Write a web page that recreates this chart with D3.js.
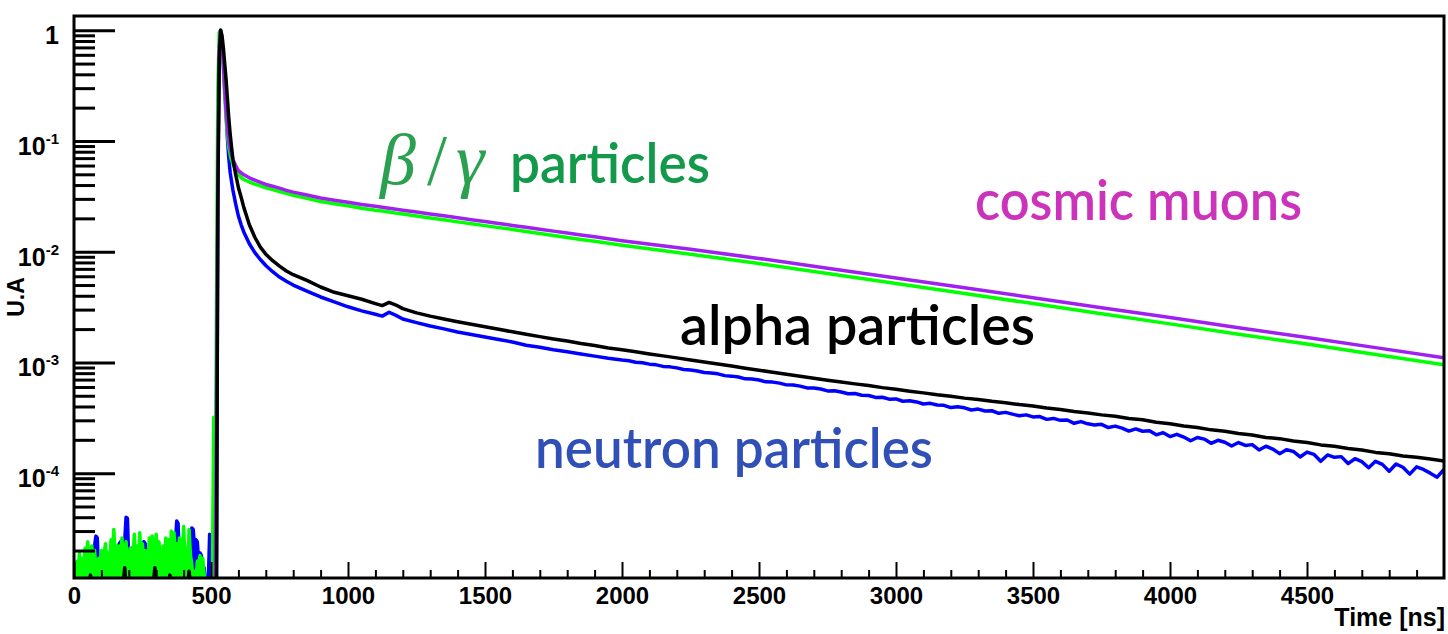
<!DOCTYPE html>
<html>
<head>
<meta charset="utf-8">
<script src="https://cdn.jsdelivr.net/npm/d3@7"></script>
<style>
  html, body { margin: 0; padding: 0; background: #fff; }
  svg { display: block; }
</style>
</head>
<body>
<svg id="chart" width="1448" height="634"></svg>
<script>
// ---------------- data ----------------
// pre-trigger baseline (bins every 5 ns from 5 to 495 ns), in units of 1e-5
const NOISE_UNIT = 1e-5;
const gammaNoise = [0,1.6,1.3,1.9,1.2,1.7,0,2.1,1.5,2.4,1.4,1.8,2.2,1.3,2.0,1.4,0,1.7,1.3,2.0,
  1.6,1.9,2.3,1.2,1.9,1.5,2.5,1.4,3.1,2.0,2.2,1.3,2.2,1.6,2.6,1.4,1.9,2.4,1.2,1.8,
  2.1,0,1.5,2.8,1.7,2.2,1.3,2.9,1.6,2.3,1.4,2.0,0,1.6,2.6,1.8,2.7,1.5,2.1,2.8,
  1.4,2.4,1.7,0,2.2,1.5,2.6,1.8,2.5,1.3,3.0,2.0,2.9,1.6,2.3,1.4,2.6,1.9,1.5,3.3,
  1.7,2.1,1.3,3.1,1.8,1.5,0,1.3,1.1,1.6,1.5,1.8,1.4,1.7,1.2,0,0,0,0];
const neutronNoise = [0,1.3,0,1.5,1.1,1.4,1.2,1.6,0,1.7,1.2,2.0,1.4,1.8,2.2,2.7,2.6,1.2,1.6,1.3,
  1.9,1.5,2.0,1.3,0,1.7,2.1,1.4,1.8,2.2,1.3,1.6,2.3,2.4,2.4,2.3,2.4,4.0,3.9,1.6,
  1.5,2.1,1.3,1.9,1.4,2.0,1.2,1.8,1.5,2.0,2.4,2.3,1.3,1.7,1.4,1.9,1.2,2.0,1.5,1.8,
  1.3,2.1,1.4,1.7,0,1.9,1.5,2.2,1.6,1.9,1.4,2.0,1.7,2.3,3.7,3.5,1.6,2.0,1.4,1.8,
  1.5,1.9,1.3,1.7,2.0,3.2,3.1,2.2,2.5,2.4,1.6,1.9,1.8,0,1.4,0,0,0,2.8];
const alphaNoise = [0,0,0,0,0,0,0,0,0,0,0,1.2,0,0,0,0,0,0,0,0,
  0,0,0,0,0,0,0,0,0,0,0,0,0,0,0,0,1.4,0,0,0,
  0,0,0,0,0,0,0,0,0,0,0,0,0,0,0,0,0,0,1.4,0,
  0,0,0,0,0,0,0,0,0,1.2,0,0,0,0,0,0,0,0,0,0,
  0,0,0,1.3,0,0,0,0,0,0,0,0,0,0,0,0,0,0,0];

// trigger and fast decay, 500 - 2000 ns
const tDecay = [500,505,510,515,520,525,530,535,540,545,550,555,560,565,570,575,580,590,600,610,
  620,640,660,680,700,725,750,775,800,850,900,950,1000,1050,1100,1125,1150,1175,1200,1250,
  1300,1350,1400,1450,1500,1550,1600,1650,1700,1750,1800,1850,1900,1950,2000];
const muonDecay = [0,0,0,0,0.0003,0.05,0.7,1.0,0.75,0.5,0.3,0.19,0.13,0.10,0.085,0.075,0.068,0.060,0.054,0.0515,
  0.0495,0.0465,0.0443,0.0423,0.0405,0.0390,0.0375,0.0358,0.0345,0.0325,0.0305,0.0292,0.0280,0.0267,0.0257,0.0252,0.0247,0.0242,0.0237,0.0228,
  0.0219,0.0211,0.02025,0.01946,0.0187,0.01798,0.01728,0.01661,0.01596,0.01534,0.01475,0.01417,0.01362,0.01309,0.01258];
const gammaDecay = [0,0,0.00032,0.00002,0.003,0.3,0.95,1.0,0.7,0.45,0.26,0.16,0.11,0.088,0.075,0.067,0.062,0.055,0.050,0.0468,
  0.0449,0.0426,0.0408,0.0393,0.0378,0.0364,0.0350,0.0336,0.0323,0.0303,0.0284,0.0271,0.0260,0.0247,0.0237,0.0233,0.0228,0.0223,0.0219,0.0210,
  0.0202,0.0194,0.0186,0.0179,0.0172,0.0165,0.0159,0.0152,0.0146,0.0140,0.01345,0.0129,0.0124,0.0119,0.01145];
const alphaDecay = [0,0,0,0,0,0.03,0.55,1.0,0.9,0.7,0.5,0.36,0.24,0.16,0.115,0.088,0.068,0.05,0.038,0.031,
  0.025,0.0175,0.0135,0.011,0.0095,0.0083,0.0074,0.0067,0.0062,0.0055,0.0048,0.0043,0.0040,0.00372,0.00340,0.00326,0.00348,0.00330,0.00306,0.00280,
  0.00262,0.00247,0.00233,0.00221,0.00210,0.00199,0.00189,0.00180,0.00171,0.00163,0.00156,0.00148,0.00142,0.00135,0.00130];
const neutronDecay = [0,0,0,0,0,0.04,0.6,1.0,0.8,0.55,0.33,0.19,0.105,0.07,0.052,0.043,0.036,0.027,0.021,0.0175,
  0.0150,0.0118,0.0098,0.0085,0.0075,0.0066,0.0059,0.0054,0.0050,0.0044,0.0039,0.00352,0.00318,0.00292,0.00272,0.00262,0.00284,0.00266,0.00247,0.00229,
  0.00213,0.00201,0.00188,0.00179,0.00170,0.00161,0.00153,0.00143,0.00137,0.00130,0.00125,0.00119,0.00114,0.00109,0.00105];

// slow tail of the smooth components, 2000 - 5000 ns every 250 ns
const tSlow = [2000,2250,2500,2750,3000,3250,3500,3750,4000,4250,4500,4750,5000];
const muonSlow = [0.01258,0.0105,0.0087,0.0071,0.0058,0.00472,0.00384,0.00312,0.00254,0.00206,0.00168,0.00136,0.00110];
const gammaSlow = [0.01145,0.0095,0.00783,0.00635,0.00516,0.00419,0.0034,0.002746,0.00223,0.0018,0.001465,0.00118,0.00095];

// long tails, in units of 1e-3: alpha every 50 ns, neutron every 25 ns, from 2000 ns
const TAIL_UNIT = 1e-3;
const alphaTail = [1.300,1.247,1.192,1.146,1.099,1.052,1.010,0.966,0.927,0.887,
  0.851,0.815,0.783,0.750,0.721,0.691,0.666,0.640,0.618,0.592,
  0.572,0.550,0.531,0.511,0.495,0.476,0.463,0.446,0.433,0.416,
  0.404,0.387,0.376,0.360,0.350,0.336,0.326,0.311,0.303,0.288,
  0.279,0.267,0.258,0.246,0.239,0.228,0.221,0.210,0.205,0.195,
  0.189,0.180,0.175,0.167,0.162,0.154,0.150,0.143,0.139,0.134,0.129];
const neutronTail = [1.053,1.036,1.004,0.992,0.965,0.951,0.921,0.912,0.893,0.862,
  0.856,0.838,0.810,0.803,0.789,0.760,0.752,0.738,0.711,0.707,
  0.693,0.668,0.664,0.650,0.627,0.624,0.611,0.589,0.587,0.575,
  0.553,0.555,0.541,0.522,0.524,0.505,0.503,0.483,0.485,0.466,
  0.468,0.446,0.451,0.440,0.421,0.427,0.412,0.410,0.391,0.397,
  0.389,0.372,0.379,0.364,0.366,0.347,0.354,0.341,0.330,0.336,
  0.322,0.324,0.306,0.312,0.300,0.302,0.282,0.292,0.279,0.272,
  0.276,0.258,0.266,0.255,0.240,0.251,0.239,0.242,0.222,0.232,
  0.214,0.224,0.212,0.196,0.210,0.203,0.186,0.198,0.190,0.176,
  0.189,0.178,0.181,0.162,0.175,0.165,0.150,0.163,0.157,0.140,
  0.155,0.148,0.128,0.146,0.139,0.141,0.122,0.135,0.127,0.112,
  0.128,0.120,0.104,0.121,0.113,0.098,0.114,0.108,0.100,0.092,0.108];

// axis ticks and labels
const xMajor = [0,500,1000,1500,2000,2500,3000,3500,4000,4500];
const yDecades = [1, 1e-1, 1e-2, 1e-3, 1e-4];
const yDecadeExp = ["", "-1", "-2", "-3", "-4"];

// ---------------- layout ----------------
const svg = d3.select("#chart");
const L = 74, R = 1444, T = 16, B = 578;
const x = d3.scaleLinear().domain([0, 5000]).range([L, R]);
const y = d3.scaleLog().domain([1.13e-5, 1.345]).range([B, T]);
const yPos = v => v > y.domain()[0] ? y(v) : B + 6;

svg.append("defs").append("clipPath").attr("id", "plotclip")
  .append("rect").attr("x", L).attr("y", T).attr("width", R - L).attr("height", B - T);

// ---------------- series ----------------
const noiseT = d3.range(5, 500, 5);
const zip = (ts, vs, unit = 1) => ts.map((t, i) => [t, vs[i] * unit]).filter(d => !isNaN(d[1]));

const series = [
  { color: "#0000ff", noise: zip(noiseT, neutronNoise, NOISE_UNIT),
    pts: [...zip(tDecay, neutronDecay), ...zip(d3.range(2025, 5001, 25), neutronTail.slice(1), TAIL_UNIT)] },
  { color: "#00ff00", noise: zip(noiseT, gammaNoise, NOISE_UNIT),
    pts: [...zip(tDecay, gammaDecay), ...zip(tSlow.slice(1), gammaSlow.slice(1))] },
  { color: "#a020f0", noise: [],
    pts: [...zip(tDecay, muonDecay), ...zip(tSlow.slice(1), muonSlow.slice(1))] },
  { color: "#000000", noise: zip(noiseT, alphaNoise, NOISE_UNIT),
    pts: [...zip(tDecay, alphaDecay), ...zip(d3.range(2050, 5001, 50), alphaTail.slice(1), TAIL_UNIT)] }
];

const line = d3.line().x(d => x(d[0])).y(d => yPos(d[1]));
const area = d3.area().x(d => x(d[0])).y0(B + 6).y1(d => yPos(d[1]));
const plot = svg.append("g").attr("clip-path", "url(#plotclip)");
const sg = plot.selectAll("g.series").data(series).join("g").attr("class", "series");
// baseline counts: filled from the bottom of the frame
sg.append("path")
  .attr("d", d => d.noise.length ? area(d.noise) : null)
  .attr("fill", d => d.color)
  .attr("stroke", d => d.color)
  .attr("stroke-width", 1);
// full waveform
sg.append("path")
  .attr("d", d => line([...d.noise, ...d.pts]))
  .attr("fill", "none")
  .attr("stroke", d => d.color)
  .attr("stroke-width", 3.5)
  .attr("stroke-linejoin", "round");

// ---------------- axes ----------------
const axisFont = "'Liberation Sans', Arial, Helvetica, sans-serif";

// x axis: major ticks with labels, minor ticks every 100 ns
const xMinor = d3.range(100, 5000, 100).filter(v => v % 500 !== 0);
const gxMinor = svg.append("g").attr("transform", `translate(0,${B})`)
  .call(d3.axisBottom(x).tickValues(xMinor).tickSize(-8).tickFormat(""));
const gx = svg.append("g").attr("transform", `translate(0,${B})`)
  .call(d3.axisBottom(x).tickValues(xMajor).tickSize(-16).tickPadding(9).tickFormat(d3.format("d")));
[gx, gxMinor].forEach(g => {
  g.select(".domain").remove();
  g.selectAll(".tick line").attr("stroke", "#000").attr("stroke-width", 2);
});
gx.selectAll(".tick text")
  .attr("font-family", axisFont).attr("font-weight", "bold").attr("font-size", 24)
  .attr("fill", "#000").attr("dy", "0.71em");

// y axis: decade ticks long, 2..9 minor ticks shorter
const yMinor = [];
[1e-5, 1e-4, 1e-3, 1e-2, 1e-1].forEach(dec => {
  for (let k = 2; k <= 9; k++) {
    const v = k * dec;
    if (v > y.domain()[0] && v < y.domain()[1]) yMinor.push(v);
  }
});
const gyMinor = svg.append("g").attr("transform", `translate(${L},0)`)
  .call(d3.axisLeft(y).tickValues(yMinor).tickSize(-21).tickFormat(""));
const gy = svg.append("g").attr("transform", `translate(${L},0)`)
  .call(d3.axisLeft(y).tickValues(yDecades).tickSize(-41).tickFormat(""));
[gy, gyMinor].forEach(g => {
  g.select(".domain").remove();
  g.selectAll(".tick line").attr("stroke", "#000").attr("stroke-width", 3);
  g.selectAll(".tick text").remove();
});

// decade labels: 1, 10^-1 ... 10^-4
yDecades.forEach((v, i) => {
  const t = svg.append("text")
    .attr("x", 59).attr("y", y(v) + 14)
    .attr("text-anchor", "end")
    .attr("font-family", axisFont).attr("font-weight", "bold").attr("font-size", 25)
    .attr("fill", "#000");
  if (yDecadeExp[i] === "") {
    t.text("1");
  } else {
    t.append("tspan").text("10");
    t.append("tspan").attr("dy", -11).attr("font-size", 15).text(yDecadeExp[i]);
  }
});

// frame
svg.append("rect")
  .attr("x", L).attr("y", T).attr("width", R - L).attr("height", B - T)
  .attr("fill", "none").attr("stroke", "#000").attr("stroke-width", 3);

// axis titles
svg.append("text")
  .attr("x", 1445).attr("y", 626)
  .attr("text-anchor", "end")
  .attr("font-family", axisFont).attr("font-weight", "bold").attr("font-size", 25)
  .text("Time [ns]");
svg.append("text")
  .attr("transform", `translate(24,${(T + B) / 2}) rotate(-90)`)
  .attr("text-anchor", "middle")
  .attr("font-family", axisFont).attr("font-weight", "bold").attr("font-size", 23)
  .text("U.A");

// ---------------- annotations ----------------
const noteFont = "Lato, 'Open Sans', sans-serif";
const notes = [
  { text: "particles",         x: 510, y: 183, w: 200, color: "#12994a" },
  { text: "cosmic muons",      x: 975, y: 220, w: 327, color: "#cc33bb" },
  { text: "alpha particles",   x: 680, y: 345, w: 355, color: "#000000" },
  { text: "neutron particles", x: 535, y: 468, w: 398, color: "#3050b8" }
];
svg.selectAll("text.note").data(notes).join("text")
  .attr("class", "note")
  .attr("x", d => d.x).attr("y", d => d.y)
  .attr("textLength", d => d.w).attr("lengthAdjust", "spacingAndGlyphs")
  .attr("font-family", noteFont).attr("font-weight", 600).attr("font-size", 55)
  .attr("fill", d => d.color)
  .text(d => d.text);

// beta / gamma symbols in math italic
const mathFont = "'Liberation Serif', 'DejaVu Serif', serif";
[["β", 380], ["/", 427], ["γ", 456]].forEach(([s, px]) => {
  svg.append("text")
    .attr("x", px).attr("y", 184)
    .attr("font-family", mathFont).attr("font-style", s === "/" ? "normal" : "italic")
    .attr("font-size", 72).attr("fill", "#2aa050")
    .text(s);
});
</script>
</body>
</html>
